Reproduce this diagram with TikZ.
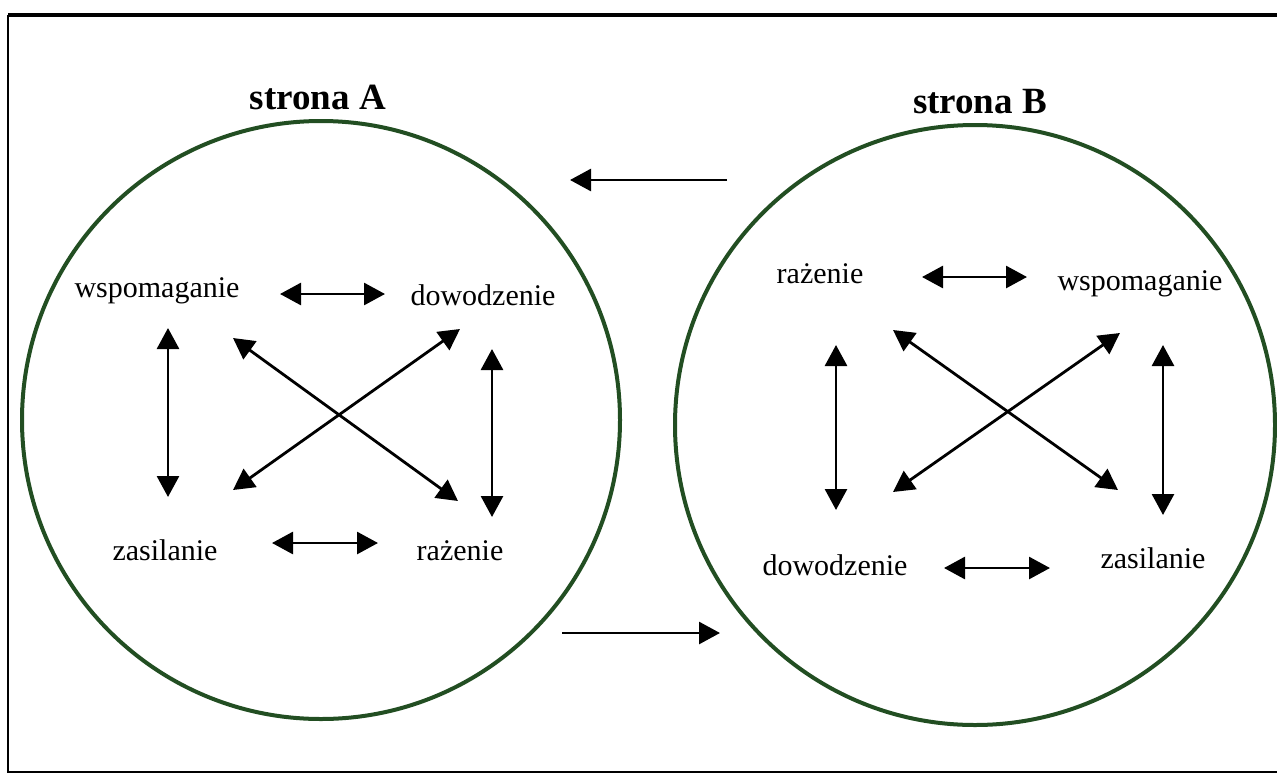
\documentclass[tikz,border=0pt]{standalone}
\usepackage{fontspec}
\setmainfont{Liberation Serif}
\usetikzlibrary{arrows.meta}
\definecolor{circgreen}{RGB}{34,78,34}
\tikzset{
  term/.style={font=\fontsize{30}{36}\selectfont, anchor=base, inner sep=0pt},
  sidetitle/.style={font=\fontsize{37}{44}\selectfont\bfseries, anchor=base, inner sep=0pt},
  side/.style={draw=circgreen, line width=4pt},
  link/.style={line width=2.8pt, {Triangle[length=21pt,width=22pt]}-{Triangle[length=21pt,width=22pt]}},
  flow/.style={line width=2.8pt, -{Triangle[length=21pt,width=22pt]}}
}
\begin{document}
\begin{tikzpicture}[x=1pt,y=-1pt]
        \useasboundingbox (0,0) rectangle (1277,774);
        % frame
        \draw[line width=3.5pt] (8,15) -- (1290,15);
        \draw[line width=2pt] (8,15) -- (8,772) -- (1290,772);
        % the two sides
        \coordinate (centerA) at (321,420);
        \coordinate (centerB) at (975,425);
        \draw[side] (centerA) circle (299);
        \draw[side] (centerB) circle (300);
        \node[sidetitle] (titleA) at (318,109) {strona A};
        \node[sidetitle] (titleB) at (980,113) {strona B};
        % side A
        \node[term] (wspA) at (157,297) {wspomaganie};
        \node[term] (dowA) at (483,305) {dowodzenie};
        \node[term] (zasA) at (165,560) {zasilanie};
        \node[term] (razA) at (460,560) {rażenie};
        \coordinate (A1) at (280,294);  \coordinate (A2) at (385,294);
        \coordinate (A3) at (272,543);  \coordinate (A4) at (378,543);
        \coordinate (A5) at (168,328);  \coordinate (A6) at (168,497);
        \coordinate (A7) at (492,349);  \coordinate (A8) at (492,517);
        \coordinate (A9) at (233,338);  \coordinate (A10) at (458,501);
        \coordinate (A11) at (233,490); \coordinate (A12) at (460,329);
        \draw[link] (A1) -- (A2);
        \draw[link] (A3) -- (A4);
        \draw[link] (A5) -- (A6);
        \draw[link] (A7) -- (A8);
        \draw[link] (A9) -- (A10);
        \draw[link] (A11) -- (A12);
        % side B
        \node[term] (razB) at (820,283) {rażenie};
        \node[term] (wspB) at (1140,290) {wspomaganie};
        \node[term] (dowB) at (835,575) {dowodzenie};
        \node[term] (zasB) at (1153,568) {zasilanie};
        \coordinate (B1) at (922,277);  \coordinate (B2) at (1027,277);
        \coordinate (B3) at (944,568);  \coordinate (B4) at (1050,568);
        \coordinate (B5) at (836,345);  \coordinate (B6) at (836,510);
        \coordinate (B7) at (1163,345); \coordinate (B8) at (1163,515);
        \coordinate (B9) at (893,330);  \coordinate (B10) at (1118,490);
        \coordinate (B11) at (893,492); \coordinate (B12) at (1120,333);
        \draw[link] (B1) -- (B2);
        \draw[link] (B3) -- (B4);
        \draw[link] (B5) -- (B6);
        \draw[link] (B7) -- (B8);
        \draw[link] (B9) -- (B10);
        \draw[link] (B11) -- (B12);
        % between the sides
        \coordinate (toAfrom) at (727,180); \coordinate (toA) at (570,180);
        \coordinate (toBfrom) at (562,633); \coordinate (toB) at (720,633);
        \draw[flow] (toAfrom) -- (toA);
        \draw[flow] (toBfrom) -- (toB);
\end{tikzpicture}
\end{document}
